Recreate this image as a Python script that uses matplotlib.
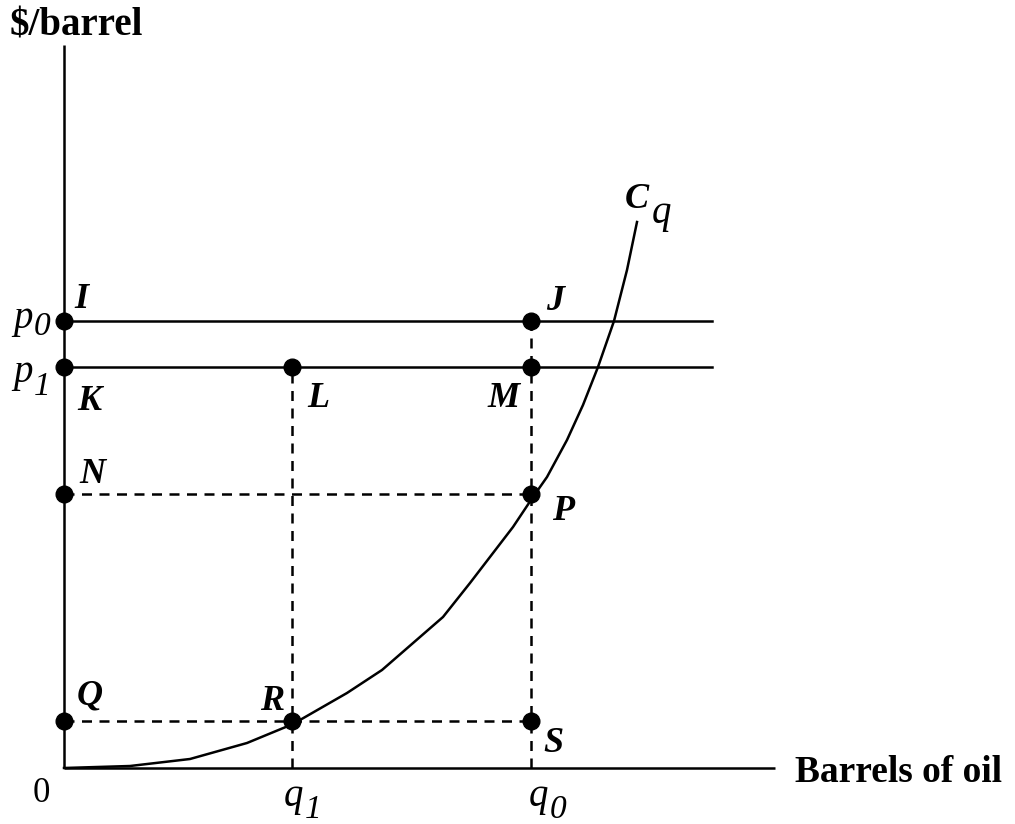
import matplotlib
matplotlib.use("Agg")
import matplotlib.pyplot as plt

plt.rcParams["font.family"] = ["Liberation Serif", "DejaVu Serif"]

# cost curve C_q (quantity, $/barrel)
curve_x = [0, 66, 126, 183, 229, 283, 318, 379, 406, 449, 469, 483, 503, 519, 534, 550, 563, 573]
curve_y = [0, 2, 9, 25, 44, 75, 98, 151, 185, 241, 271, 291, 328, 363, 401, 447, 498, 546]

# levels on the axes
q1, q0 = 228, 467
p0, p1 = 447, 401
n_level, q_level = 274, 47
price_line_end = 648
x_axis_end, y_axis_end = 711, 723

# labelled points
point_names = ["I", "J", "K", "L", "M", "N", "P", "Q", "R", "S"]
point_x = [0, q0, 0, q1, q0, 0, q0, 0, q1, q0]
point_y = [p0, p0, p1, p1, p1, n_level, n_level, q_level, q_level, q_level]

fig = plt.figure(figsize=(10.15, 8.24), dpi=100)
ax = fig.add_axes([0, 0, 1, 1])
ax.set_xlim(-64, 951)
ax.set_ylim(-56, 768)
ax.axis("off")

lw = 1.8
# axes
ax.plot([0, 0], [0, y_axis_end], color="black", lw=lw, solid_capstyle="butt")
ax.plot([0, x_axis_end], [0, 0], color="black", lw=lw, solid_capstyle="butt")

# price lines
ax.plot([0, price_line_end], [p0, p0], color="black", lw=lw)
ax.plot([0, price_line_end], [p1, p1], color="black", lw=lw)

# dashed guides
dash = dict(color="black", lw=lw, dashes=(4, 3))
ax.plot([q1, q1], [0, p1], **dash)
ax.plot([q0, q0], [0, p0], **dash)
ax.plot([0, q0], [n_level, n_level], **dash)
ax.plot([0, q0], [q_level, q_level], **dash)

# cost curve
ax.plot(curve_x, curve_y, color="black", lw=lw)

# points
ax.plot(point_x, point_y, "o", color="black", markersize=12, zorder=5)

lab = dict(fontsize=26, fontweight="bold", fontstyle="italic", ha="center", va="center")
label_pos = {
    "I": (17, 468), "J": (491, 466), "K": (25, 367), "L": (254, 370),
    "M": (440, 370), "N": (28, 294), "P": (499, 256), "Q": (26, 72),
    "R": (208, 67), "S": (489, 25),
}
for name in point_names:
    x, y = label_pos[name]
    ax.text(x, y, name, **lab)


def sub_label(x, y, main, sub, size, sub_size, sx, sy, weight="normal"):
    ax.text(x, y, main, fontsize=size, fontstyle="italic", fontweight=weight,
            ha="left", va="baseline")
    ax.text(sx, sy, sub, fontsize=sub_size, fontstyle="italic",
            ha="left", va="baseline")


sub_label(561, 560, "C", "q", 26, 28, 588, 545, weight="bold")
sub_label(220, -38, "q", "1", 28, 24, 241, -50)
sub_label(465, -38, "q", "0", 28, 24, 486, -50)
sub_label(-51, 440, "p", "0", 28, 24, -30, 433)
sub_label(-51, 386, "p", "1", 28, 24, -30, 373)

# axis labels
ax.text(-54, 733, "$/barrel", fontsize=28, fontweight="bold", ha="left", va="baseline")
ax.text(731, -14, "Barrels of oil", fontsize=27, fontweight="bold", ha="left", va="baseline")
ax.text(-23, -26, "0", fontsize=25, ha="center", va="center")

fig.savefig("out.png", dpi=100)
